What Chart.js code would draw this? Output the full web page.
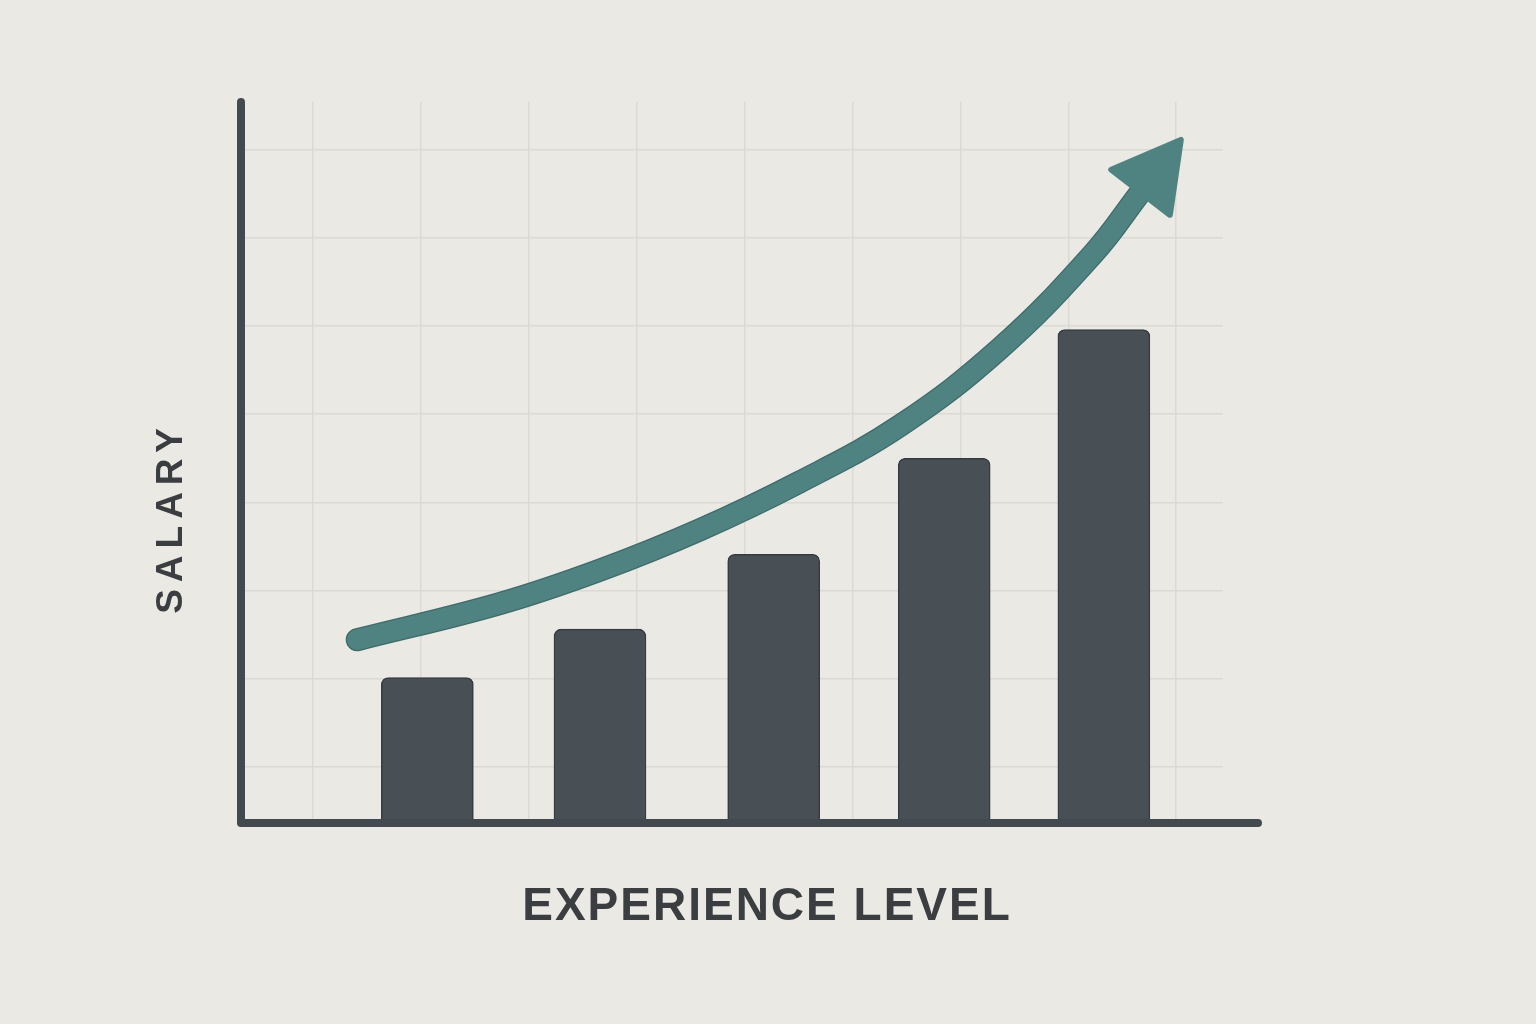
<!DOCTYPE html>
<html>
<head>
<meta charset="utf-8">
<title>Salary vs Experience Level</title>
<script src="https://cdn.jsdelivr.net/npm/chart.js@4.4.1/dist/chart.umd.min.js"></script>
<style>
  html, body { margin: 0; padding: 0; background: #ebe9e4; }
  #caja { width: 1536px; height: 1024px; }
</style>
</head>
<body>
<div id="caja"><canvas id="salarioChart" width="1536" height="1024"></canvas></div>
<script>
// 1. DATOS (sin etiquetas numericas en el original)
const nivelesX = [1.06, 2.66, 4.27, 5.85, 7.33];   // centro de cada barra sobre el eje de experiencia
const salarios = [16.5, 22.0, 30.5, 41.4, 56.0];  // altura de cada barra

// la flecha de tendencia
const tendenciaX = [0.41, 1.73, 2.66, 3.59, 4.51, 5.44, 6.37, 7.23, 7.67];
const tendenciaY = [20.8, 24.9, 28.7, 33.3, 38.7, 45.1, 53.9, 64.6, 71.6];

// donde caen las lineas de la rejilla
const rejillaX = [0, 1, 2, 3, 4, 5, 6, 7, 8];
const rejillaY = [6.4, 16.4, 26.4, 36.4, 46.4, 56.4, 66.4, 76.4];

const tituloX = 'EXPERIENCE LEVEL';
const tituloY = 'SALARY';

const colorEjes = '#434a4f';
const colorTexto = '#3b3e41';
const colorFlecha = '#4f8382';

// 2. PLUGIN: ejes gruesos, punta de flecha y titulos
const dibujosExtra = {
    id: 'dibujosExtra',
    afterDatasetsDraw(chart) {
        let ctx = chart.ctx;
        let area = chart.chartArea;

        // punta de flecha, sigue la direccion de los dos ultimos puntos de la linea
        let puntos = chart.getDatasetMeta(2).data;
        let a = puntos[puntos.length - 2];
        let b = puntos[puntos.length - 1];
        let dx = b.x - a.x, dy = b.y - a.y;
        let largo = Math.hypot(dx, dy);
        let ux = dx / largo, uy = dy / largo;
        let punta = 66, ancho = 37;
        ctx.save();
        ctx.beginPath();
        ctx.moveTo(b.x + ux * punta, b.y + uy * punta);
        ctx.lineTo(b.x - uy * ancho, b.y + ux * ancho);
        ctx.lineTo(b.x + uy * ancho, b.y - ux * ancho);
        ctx.closePath();
        ctx.fillStyle = colorFlecha;
        ctx.strokeStyle = colorFlecha;
        ctx.lineWidth = 6;
        ctx.lineJoin = 'round';
        ctx.fill();
        ctx.stroke();
        ctx.restore();

        // ejes en L con puntas redondeadas
        ctx.save();
        ctx.beginPath();
        ctx.moveTo(area.left, area.top);
        ctx.lineTo(area.left, area.bottom);
        ctx.lineTo(area.right + 35, area.bottom);
        ctx.strokeStyle = colorEjes;
        ctx.lineWidth = 8;
        ctx.lineCap = 'round';
        ctx.lineJoin = 'round';
        ctx.stroke();
        ctx.restore();
    },
    afterDraw(chart) {
        let ctx = chart.ctx;
        let area = chart.chartArea;
        ctx.save();
        ctx.fillStyle = colorTexto;
        ctx.textAlign = 'center';
        ctx.textBaseline = 'middle';

        ctx.font = 'bold 46px "Liberation Sans", Arial, sans-serif';
        ctx.letterSpacing = '2px';
        ctx.fillText(tituloX, area.left + 526, area.bottom + 84);

        ctx.translate(area.left - 69, (area.top + area.bottom) / 2 + 58);
        ctx.rotate(-Math.PI / 2);
        ctx.font = 'bold 37px "Liberation Sans", Arial, sans-serif';
        ctx.letterSpacing = '7px';
        ctx.fillText(tituloY, 3, 0);
        ctx.restore();
    }
};

// 3. EL GRAFICO
const lineaTendencia = tendenciaX.map((x, i) => ({ x: x, y: tendenciaY[i] }));

new Chart(document.getElementById('salarioChart').getContext('2d'), {
    type: 'bar',
    data: {
        datasets: [
            {
                type: 'bar',
                data: nivelesX.map((x, i) => ({ x: x, y: salarios[i] })),
                backgroundColor: '#495055',
                borderColor: '#353b3f',
                borderWidth: 1.5,
                borderSkipped: 'bottom',
                borderRadius: { topLeft: 7, topRight: 7, bottomLeft: 0, bottomRight: 0 },
                barThickness: 92,
                order: 3
            },
            {
                // borde oscuro de la flecha
                type: 'line',
                data: lineaTendencia,
                borderColor: '#3c6b6a',
                borderWidth: 23,
                borderCapStyle: 'round',
                tension: 0.4,
                pointRadius: 0,
                fill: false,
                order: 2
            },
            {
                type: 'line',
                data: lineaTendencia,
                borderColor: colorFlecha,
                borderWidth: 20.5,
                borderCapStyle: 'round',
                tension: 0.4,
                pointRadius: 0,
                fill: false,
                order: 1
            }
        ]
    },
    options: {
        responsive: false,
        animation: false,
        layout: { padding: { left: 241, top: 102, right: 313, bottom: 201 } },
        plugins: {
            legend: { display: false },
            tooltip: { enabled: false }
        },
        scales: {
            x: {
                type: 'linear',
                min: -0.667,
                max: 8.434,
                offset: false,
                afterBuildTicks: s => { s.ticks = rejillaX.map(v => ({ value: v })); },
                ticks: { display: false },
                grid: { color: '#dcd9d3', lineWidth: 1.5, drawTicks: false, offset: false },
                border: { display: false }
            },
            y: {
                type: 'linear',
                min: 0,
                max: 81.84,
                afterBuildTicks: s => { s.ticks = rejillaY.map(v => ({ value: v })); },
                ticks: { display: false },
                grid: { color: '#dcd9d3', lineWidth: 1.5, drawTicks: false },
                border: { display: false }
            }
        }
    },
    plugins: [dibujosExtra]
});
</script>
</body>
</html>
